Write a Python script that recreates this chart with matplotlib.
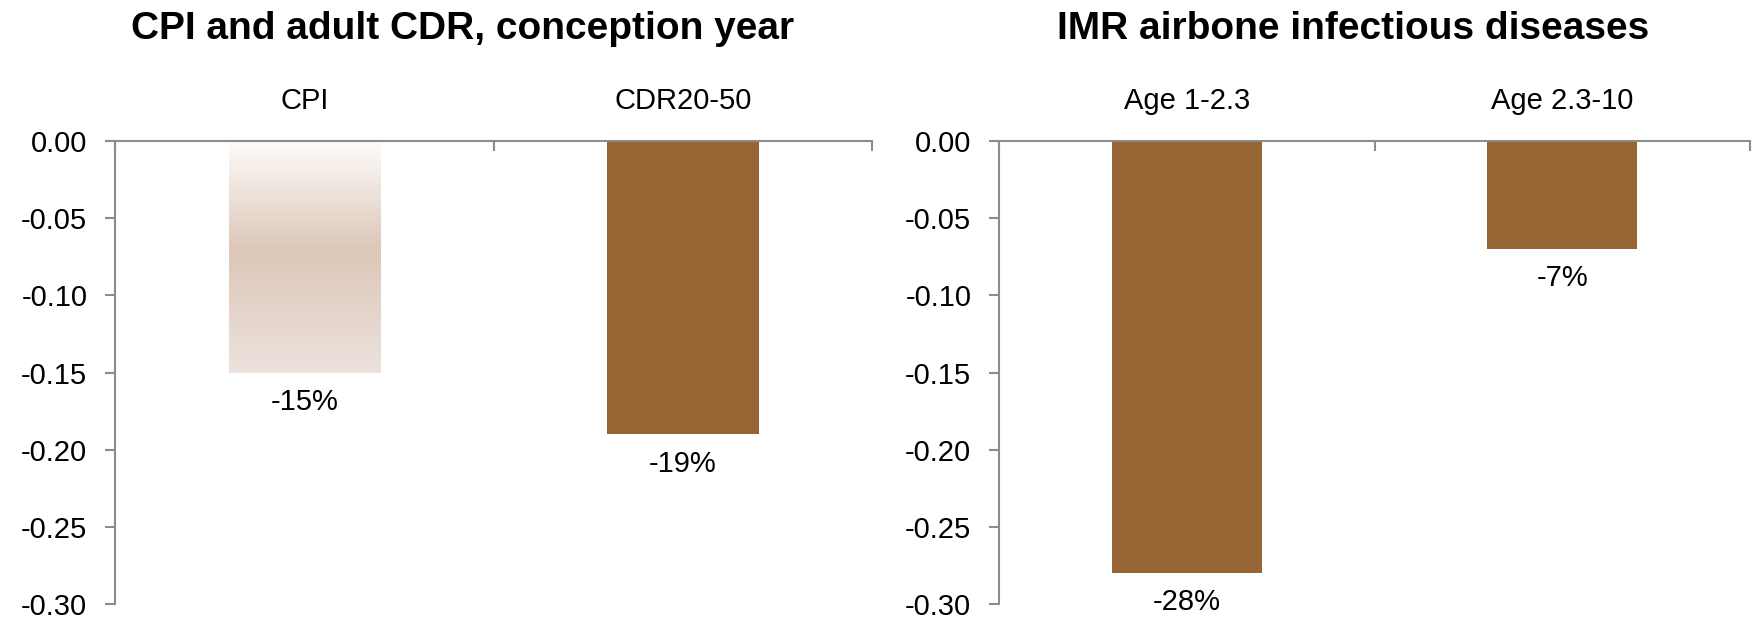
import matplotlib
matplotlib.use("Agg")
import matplotlib.pyplot as plt
import numpy as np
from matplotlib.colors import LinearSegmentedColormap

plt.rcParams['font.family'] = ['Liberation Sans', 'DejaVu Sans']

# data
left_title = "CPI and adult CDR, conception year"
left_cats = ["CPI", "CDR20-50"]
left_vals = [-0.15, -0.19]
left_labels = ["-15%", "-19%"]

right_title = "IMR airbone infectious diseases"
right_cats = ["Age 1-2.3", "Age 2.3-10"]
right_vals = [-0.28, -0.07]
right_labels = ["-28%", "-7%"]

yticks = [0.0, -0.05, -0.10, -0.15, -0.20, -0.25, -0.30]

BROWN = "#976534"
AXIS_GREY = "#8c8c8c"
FS = 21

# CPI bar uses a soft vertical gradient
grad_cmap = LinearSegmentedColormap.from_list(
    "cpi", [(0.0, "#fdfbfa"), (0.47, "#dcc7b8"), (1.0, "#ece2dd")])


def style_axes(ax, cats):
    ax.set_xlim(-0.5, len(cats) - 0.5)
    ax.set_ylim(-0.30, 0.0)
    for s in ["bottom", "right"]:
        ax.spines[s].set_visible(False)
    for s in ["left", "top"]:
        ax.spines[s].set_color(AXIS_GREY)
        ax.spines[s].set_linewidth(1.5)
    ax.xaxis.tick_top()
    ax.set_xticks(range(len(cats)))
    ax.set_xticklabels(cats, fontsize=FS)
    ax.set_xticks(np.arange(-0.5, len(cats)), minor=True)
    ax.tick_params(axis="x", which="major", length=0, pad=19)
    ax.tick_params(axis="x", which="minor", direction="in", length=7.5,
                   width=1.5, color=AXIS_GREY)
    ax.set_yticks(yticks)
    ax.set_yticklabels(["%.2f" % v for v in yticks], fontsize=FS)
    ax.tick_params(axis="y", direction="out", length=7, width=1.5,
                   color=AXIS_GREY, pad=13)


def label_bars(ax, bars, labels):
    for b, lab in zip(bars, labels):
        ax.annotate(lab, (b.get_x() + b.get_width() / 2, b.get_height()),
                    xytext=(0, -11), textcoords="offset points",
                    ha="center", va="top", fontsize=FS, clip_on=False)


fig = plt.figure(figsize=(17.57, 6.18), dpi=100)
ax1 = fig.add_axes([0.0655, 0.0227, 0.4309, 0.749])
ax2 = fig.add_axes([0.5686, 0.0227, 0.4274, 0.749])

# left panel
bars1 = ax1.bar(range(len(left_cats)), left_vals, width=0.40,
                color=["none", BROWN], edgecolor="none", zorder=2)
b = bars1[0]
grad = np.linspace(0, 1, 256).reshape(-1, 1)
im = ax1.imshow(grad, cmap=grad_cmap, aspect="auto", zorder=2,
                extent=[b.get_x(), b.get_x() + b.get_width(), b.get_height(), 0])
im.set_clip_path(b)
style_axes(ax1, left_cats)
label_bars(ax1, bars1, left_labels)

# right panel
bars2 = ax2.bar(range(len(right_cats)), right_vals, width=0.40,
                color=BROWN, edgecolor="none", zorder=2)
style_axes(ax2, right_cats)
label_bars(ax2, bars2, right_labels)

fig.text(0.2635, 0.953, left_title, ha="center", va="center",
         fontsize=28, fontweight="bold")
fig.text(0.770, 0.953, right_title, ha="center", va="center",
         fontsize=28, fontweight="bold")

fig.savefig("out.png", dpi=100)
